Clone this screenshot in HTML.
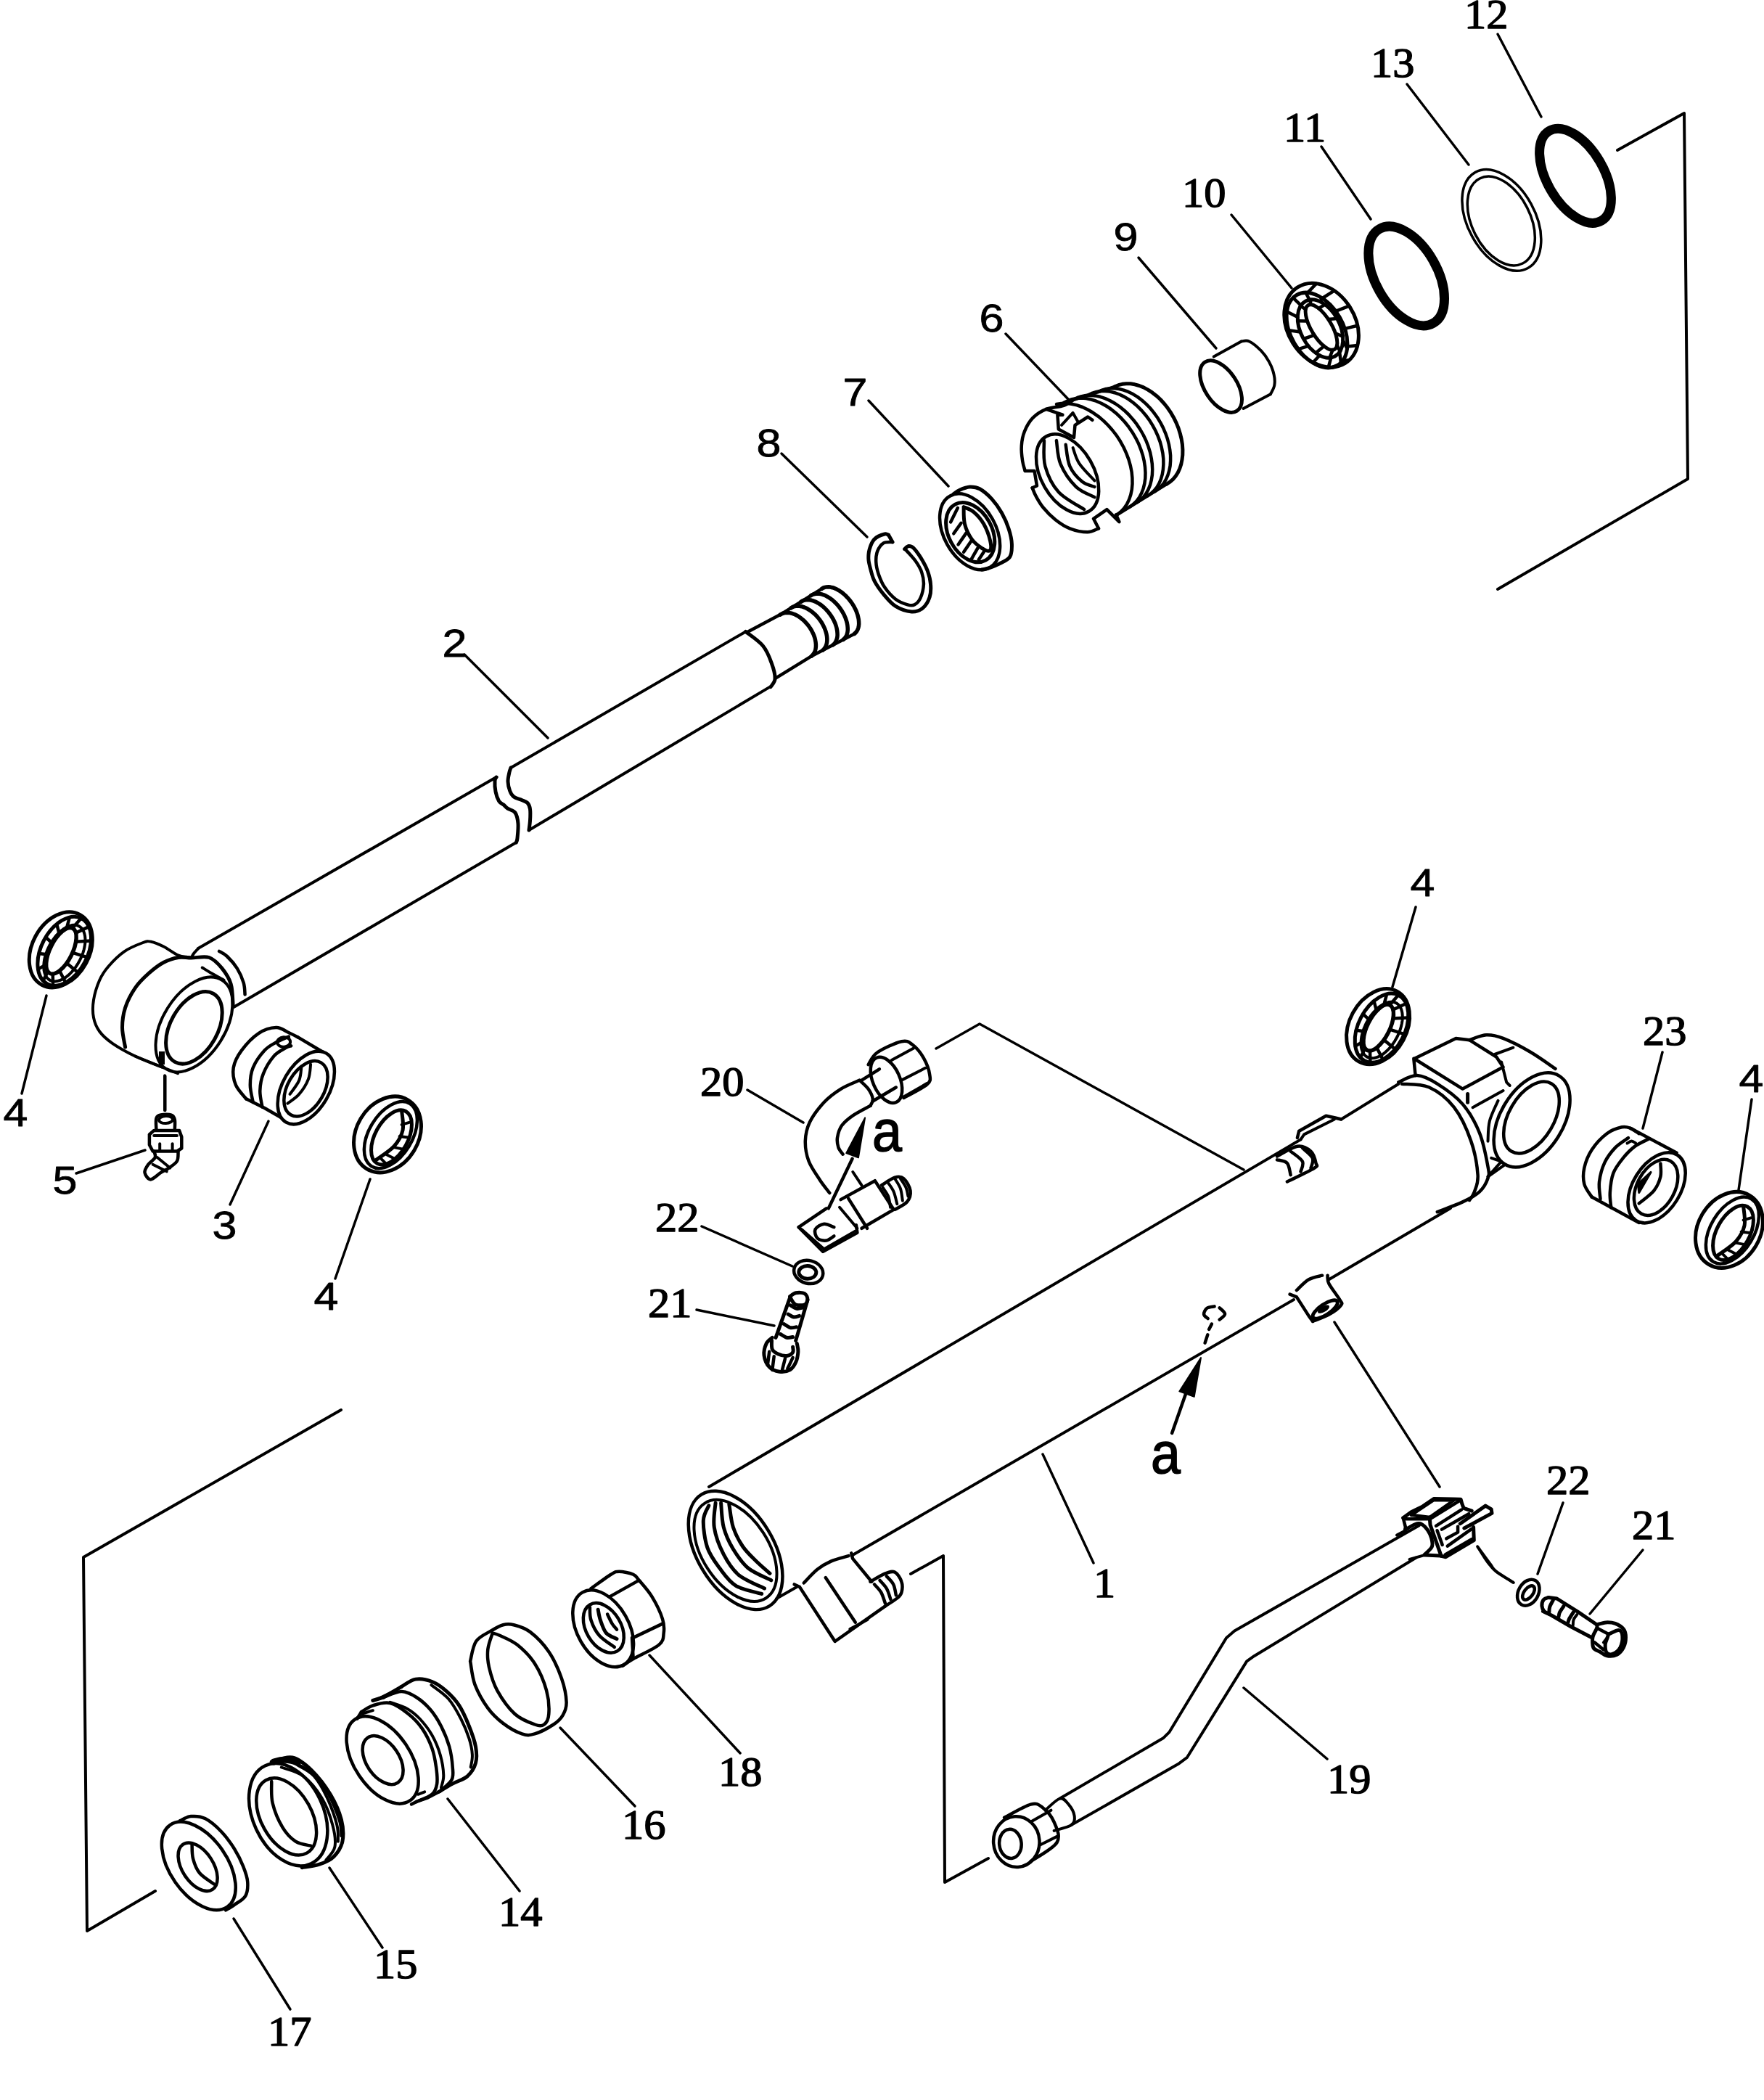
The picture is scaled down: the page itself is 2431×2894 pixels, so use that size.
<!DOCTYPE html>
<html><head><meta charset="utf-8"><style>
html,body{margin:0;padding:0;background:#fff;}
svg{display:block;}
text{fill:#000;stroke:none;}
</style></head><body>
<svg xmlns="http://www.w3.org/2000/svg" width="2431" height="2894" viewBox="0 0 2431 2894">
<rect width="2431" height="2894" fill="#fff"/>
<g fill="none" stroke="#000" stroke-linecap="round" stroke-linejoin="round">
<text x="2018" y="38.5" font-family="Liberation Serif" font-size="56.5" text-anchor="start" transform="translate(2018 38.5) scale(1.07 1) translate(-2018 -38.5)" style="stroke:#000;stroke-width:1.4px">12</text>
<text x="1889" y="106.5" font-family="Liberation Serif" font-size="56.5" text-anchor="start" transform="translate(1889 106.5) scale(1.07 1) translate(-1889 -106.5)" style="stroke:#000;stroke-width:1.4px">13</text>
<text x="1769" y="195.5" font-family="Liberation Serif" font-size="56.5" text-anchor="start" transform="translate(1769 195.5) scale(1.07 1) translate(-1769 -195.5)" style="stroke:#000;stroke-width:1.4px">11</text>
<text x="1629" y="285.5" font-family="Liberation Serif" font-size="56.5" text-anchor="start" transform="translate(1629 285.5) scale(1.07 1) translate(-1629 -285.5)" style="stroke:#000;stroke-width:1.4px">10</text>
<text x="1534.5" y="345.5" font-family="Liberation Sans" font-size="54" text-anchor="start" transform="translate(1534.5 345.5) scale(1.13 1) translate(-1534.5 -345.5)" style="stroke:#000;stroke-width:0.8px">9</text>
<text x="1349.5" y="457.5" font-family="Liberation Sans" font-size="54" text-anchor="start" transform="translate(1349.5 457.5) scale(1.13 1) translate(-1349.5 -457.5)" style="stroke:#000;stroke-width:0.8px">6</text>
<text x="1161.5" y="559.5" font-family="Liberation Sans" font-size="54" text-anchor="start" transform="translate(1161.5 559.5) scale(1.13 1) translate(-1161.5 -559.5)" style="stroke:#000;stroke-width:0.8px">7</text>
<text x="1042.5" y="629.5" font-family="Liberation Sans" font-size="54" text-anchor="start" transform="translate(1042.5 629.5) scale(1.13 1) translate(-1042.5 -629.5)" style="stroke:#000;stroke-width:0.8px">8</text>
<text x="609.5" y="905.5" font-family="Liberation Sans" font-size="54" text-anchor="start" transform="translate(609.5 905.5) scale(1.13 1) translate(-609.5 -905.5)" style="stroke:#000;stroke-width:0.8px">2</text>
<text x="4.5" y="1552.5" font-family="Liberation Sans" font-size="54" text-anchor="start" transform="translate(4.5 1552.5) scale(1.13 1) translate(-4.5 -1552.5)" style="stroke:#000;stroke-width:0.8px">4</text>
<text x="72.5" y="1645.5" font-family="Liberation Sans" font-size="54" text-anchor="start" transform="translate(72.5 1645.5) scale(1.13 1) translate(-72.5 -1645.5)" style="stroke:#000;stroke-width:0.8px">5</text>
<text x="292.5" y="1707.5" font-family="Liberation Sans" font-size="54" text-anchor="start" transform="translate(292.5 1707.5) scale(1.13 1) translate(-292.5 -1707.5)" style="stroke:#000;stroke-width:0.8px">3</text>
<text x="432.5" y="1805.5" font-family="Liberation Sans" font-size="54" text-anchor="start" transform="translate(432.5 1805.5) scale(1.13 1) translate(-432.5 -1805.5)" style="stroke:#000;stroke-width:0.8px">4</text>
<text x="965" y="1510.5" font-family="Liberation Serif" font-size="56.5" text-anchor="start" transform="translate(965 1510.5) scale(1.07 1) translate(-965 -1510.5)" style="stroke:#000;stroke-width:1.4px">20</text>
<text x="903" y="1697.5" font-family="Liberation Serif" font-size="56.5" text-anchor="start" transform="translate(903 1697.5) scale(1.07 1) translate(-903 -1697.5)" style="stroke:#000;stroke-width:1.4px">22</text>
<text x="893" y="1815.5" font-family="Liberation Serif" font-size="56.5" text-anchor="start" transform="translate(893 1815.5) scale(1.07 1) translate(-893 -1815.5)" style="stroke:#000;stroke-width:1.4px">21</text>
<text x="1943.5" y="1235.5" font-family="Liberation Sans" font-size="54" text-anchor="start" transform="translate(1943.5 1235.5) scale(1.13 1) translate(-1943.5 -1235.5)" style="stroke:#000;stroke-width:0.8px">4</text>
<text x="2264" y="1440.5" font-family="Liberation Serif" font-size="56.5" text-anchor="start" transform="translate(2264 1440.5) scale(1.07 1) translate(-2264 -1440.5)" style="stroke:#000;stroke-width:1.4px">23</text>
<text x="2396.5" y="1505.5" font-family="Liberation Sans" font-size="54" text-anchor="start" transform="translate(2396.5 1505.5) scale(1.13 1) translate(-2396.5 -1505.5)" style="stroke:#000;stroke-width:0.8px">4</text>
<text x="1507" y="2201.5" font-family="Liberation Serif" font-size="56.5" text-anchor="start" transform="translate(1507 2201.5) scale(1.07 1) translate(-1507 -2201.5)" style="stroke:#000;stroke-width:1.4px">1</text>
<text x="2131" y="2059.5" font-family="Liberation Serif" font-size="56.5" text-anchor="start" transform="translate(2131 2059.5) scale(1.07 1) translate(-2131 -2059.5)" style="stroke:#000;stroke-width:1.4px">22</text>
<text x="2249" y="2121.5" font-family="Liberation Serif" font-size="56.5" text-anchor="start" transform="translate(2249 2121.5) scale(1.07 1) translate(-2249 -2121.5)" style="stroke:#000;stroke-width:1.4px">21</text>
<text x="1829" y="2471.5" font-family="Liberation Serif" font-size="56.5" text-anchor="start" transform="translate(1829 2471.5) scale(1.07 1) translate(-1829 -2471.5)" style="stroke:#000;stroke-width:1.4px">19</text>
<text x="990" y="2461.5" font-family="Liberation Serif" font-size="56.5" text-anchor="start" transform="translate(990 2461.5) scale(1.07 1) translate(-990 -2461.5)" style="stroke:#000;stroke-width:1.4px">18</text>
<text x="857" y="2534.5" font-family="Liberation Serif" font-size="56.5" text-anchor="start" transform="translate(857 2534.5) scale(1.07 1) translate(-857 -2534.5)" style="stroke:#000;stroke-width:1.4px">16</text>
<text x="687" y="2654.5" font-family="Liberation Serif" font-size="56.5" text-anchor="start" transform="translate(687 2654.5) scale(1.07 1) translate(-687 -2654.5)" style="stroke:#000;stroke-width:1.4px">14</text>
<text x="515" y="2726.5" font-family="Liberation Serif" font-size="56.5" text-anchor="start" transform="translate(515 2726.5) scale(1.07 1) translate(-515 -2726.5)" style="stroke:#000;stroke-width:1.4px">15</text>
<text x="369" y="2819.5" font-family="Liberation Serif" font-size="56.5" text-anchor="start" transform="translate(369 2819.5) scale(1.07 1) translate(-369 -2819.5)" style="stroke:#000;stroke-width:1.4px">17</text>
<text x="1202" y="1586" font-family="Liberation Sans" font-size="80" text-anchor="start" transform="translate(1202 1586) scale(0.92 1) translate(-1202 -1586)" style="stroke:#000;stroke-width:1.6px">a</text>
<text x="1586" y="2030" font-family="Liberation Sans" font-size="80" text-anchor="start" transform="translate(1586 2030) scale(0.92 1) translate(-1586 -2030)" style="stroke:#000;stroke-width:1.6px">a</text>
<path d="M2064 47 L2124 161" stroke-width="3.5"/>
<path d="M1939 116 L2024 227" stroke-width="3.5"/>
<path d="M1821 202 L1889 302" stroke-width="3.5"/>
<path d="M1697 296 L1780 397" stroke-width="3.5"/>
<path d="M1569 355 L1676 480" stroke-width="3.5"/>
<path d="M1386 460 L1472 550" stroke-width="3.5"/>
<path d="M1197 552 L1307 670" stroke-width="3.5"/>
<path d="M1077 625 L1195 740" stroke-width="3.5"/>
<path d="M640 902 L755 1017" stroke-width="3.5"/>
<path d="M64 1372 L30 1507" stroke-width="3.5"/>
<path d="M105 1617 L200 1585" stroke-width="3.5"/>
<path d="M227 1482 L227 1530" stroke-width="3.5"/>
<path d="M317 1660 L370 1545" stroke-width="3.5"/>
<path d="M510 1625 L462 1762" stroke-width="3.5"/>
<path d="M1030 1502 L1107 1547" stroke-width="3.5"/>
<path d="M967 1690 L1092 1745" stroke-width="3.5"/>
<path d="M960 1805 L1067 1827" stroke-width="3.5"/>
<path d="M1951 1250 L1919 1360" stroke-width="3.5"/>
<path d="M2291 1450 L2264 1555" stroke-width="3.5"/>
<path d="M2414 1515 L2396 1640" stroke-width="3.5"/>
<path d="M1437 2004 L1507 2154" stroke-width="3.5"/>
<path d="M1714 2326 L1829 2424" stroke-width="3.5"/>
<path d="M2119 2169 L2154 2071" stroke-width="3.5"/>
<path d="M2191 2224 L2264 2136" stroke-width="3.5"/>
<path d="M895 2281 L1020 2416" stroke-width="3.5"/>
<path d="M772 2381 L875 2489" stroke-width="3.5"/>
<path d="M617 2479 L716 2606" stroke-width="3.5"/>
<path d="M454 2574 L527 2684" stroke-width="3.5"/>
<path d="M322 2644 L400 2769" stroke-width="3.5"/>
<path d="M1839 1822 L1984 2049" stroke-width="3.5"/>
<path d="M2036 2131 C2038.3 2134.7 2045.7 2147.2 2050 2153 C2054.3 2158.8 2056 2161.3 2062 2166 C2068 2170.7 2082 2178.5 2086 2181" stroke-width="3.5"/>
<path d="M2229 207 L2321 156 L2326 660 L2064 812" stroke-width="4"/>
<path d="M1290 1445 L1350 1411 L1714 1612" stroke-width="3.5"/>
<path d="M470 1943 L115 2146 L120 2661 L214 2606" stroke-width="4"/>
<path d="M1255 2169 L1300 2144 L1302 2594 L1362 2561" stroke-width="4"/>
<ellipse cx="2171" cy="242.3" rx="71.6" ry="39.1" transform="rotate(59.8 2171 242.3)" stroke-width="13"/>
<ellipse cx="1938.2" cy="380.4" rx="74.8" ry="42.6" transform="rotate(60.4 1938.2 380.4)" stroke-width="13"/>
<ellipse cx="2069.4" cy="303.4" rx="75.3" ry="46.4" transform="rotate(61.3 2069.4 303.4)" stroke-width="3.5"/>
<ellipse cx="2068.8" cy="304.5" rx="65.6" ry="40.2" transform="rotate(63.2 2068.8 304.5)" stroke-width="3.5"/>
<ellipse cx="1821.1" cy="448.2" rx="61.7" ry="46.5" transform="rotate(57.8 1821.1 448.2)" stroke-width="5"/>
<ellipse cx="1815" cy="455" rx="56" ry="36" transform="rotate(60 1815 455)" stroke-width="5"/>
<ellipse cx="1819.5" cy="453" rx="43" ry="27" transform="rotate(62 1819.5 453)" stroke-width="5"/>
<ellipse cx="1821" cy="451" rx="35.5" ry="14" transform="rotate(59 1821 451)" stroke-width="5"/>
<path d="M1848 499.6 L1846.1 485.2" stroke-width="4.5"/>
<path d="M1856.5 480.6 L1850.7 469" stroke-width="4.5"/>
<path d="M1853.9 454.7 L1847 448.5" stroke-width="4.5"/>
<path d="M1840.8 428.9 L1835.9 429.2" stroke-width="4.5"/>
<path d="M1820.9 410 L1820.4 416.3" stroke-width="4.5"/>
<path d="M1799.4 403.3 L1804.7 413.2" stroke-width="4.5"/>
<path d="M1782 410.4 L1792.9 420.8" stroke-width="4.5"/>
<path d="M1773.5 429.4 L1788.3 437" stroke-width="4.5"/>
<path d="M1776.1 455.3 L1792 457.5" stroke-width="4.5"/>
<path d="M1789.2 481.1 L1803.1 476.8" stroke-width="4.5"/>
<path d="M1809.1 500 L1818.6 489.7" stroke-width="4.5"/>
<path d="M1830.6 506.7 L1834.3 492.8" stroke-width="4.5"/>
<path d="M1816.4 503.7 L1813.9 501.5" stroke-width="4.5"/>
<path d="M1835.9 506.2 L1838.5 505.7" stroke-width="4.5"/>
<path d="M1850.5 496.7 L1859.1 496.5" stroke-width="4.5"/>
<path d="M1856.8 477.4 L1870.8 475.9" stroke-width="4.5"/>
<path d="M1853.3 452.9 L1870.9 448.8" stroke-width="4.5"/>
<path d="M1840.8 428.9 L1859.3 421.6" stroke-width="4.5"/>
<path d="M1822.3 411 L1838.7 400.6" stroke-width="4.5"/>
<path d="M1802.1 403.4 L1814.1 390.8" stroke-width="4.5"/>
<path d="M1846.6 484.3 L1842.6 475.5" stroke-width="4.5"/>
<path d="M1850.6 463.7 L1840.4 459.4" stroke-width="4.5"/>
<path d="M1842.6 439 L1830.7 440.1" stroke-width="4.5"/>
<path d="M1825.9 419.6 L1817.3 425" stroke-width="4.5"/>
<path d="M1806.7 413 L1805.3 419.8" stroke-width="4.5"/>
<path d="M1792.4 421.7 L1799.4 426.5" stroke-width="4.5"/>
<path d="M1788.4 442.3 L1801.6 442.6" stroke-width="4.5"/>
<path d="M1796.4 467 L1811.3 461.9" stroke-width="4.5"/>
<path d="M1813.1 486.4 L1824.7 477" stroke-width="4.5"/>
<path d="M1832.3 493 L1836.7 482.2" stroke-width="4.5"/>
<ellipse cx="1682.6" cy="532.6" rx="22.2" ry="40.2" transform="rotate(-33.5 1682.6 532.6)" stroke-width="5"/>
<path d="M1672.7 491.6 L1710.7 470.5" stroke-width="4"/>
<path d="M1710.7 470.5 C1712.6 470.5 1717.1 468.3 1721.6 470.5 C1726.2 472.6 1733.4 478.8 1738 483.4 C1742.5 488 1745.9 492.9 1748.8 498.4 C1751.8 503.8 1754.4 510.6 1755.6 516.1 C1756.9 521.5 1757.1 526.5 1756.3 531 C1755.5 535.6 1751.8 541.2 1750.9 543.3" stroke-width="4"/>
<path d="M1750.9 543.3 L1713.5 563" stroke-width="4"/>
<path d="M1480 550.4 C1477.7 551.8 1472.2 556.7 1465.9 558.9 C1459.5 561.2 1448.9 561.1 1441.8 563.9 C1434.7 566.7 1428.3 570.9 1423.3 575.9 C1418.4 581 1414.6 588 1412 594.4 C1409.4 600.7 1408.2 607.4 1407.8 614.2 C1407.3 621.1 1408.3 629.7 1409.2 635.5 C1410 641.3 1412.1 646.7 1412.7 648.9" stroke-width="4.5"/>
<path d="M1412.7 648.9 L1425.5 648.9 L1429 669.5 L1422.6 672.3" stroke-width="4.5"/>
<path d="M1422.6 672.3 C1423.5 674.2 1425.1 679.2 1427.6 683.7 C1430.1 688.1 1433 693.8 1437.5 699.2 C1442 704.7 1448.4 711.4 1454.5 716.2 C1460.7 721.1 1467 725.5 1474.4 728.3 C1481.7 731.1 1491.8 733.3 1498.5 733.3 C1505.1 733.3 1511.4 729.1 1514 728.3" stroke-width="4.5"/>
<path d="M1514 728.3 L1507 714.8 L1525.4 702.1 L1542.4 719.1 L1538.1 709.2" stroke-width="4.5"/>
<path d="M1441.8 563.9 L1464.4 571.7 L1457.4 571.7 L1458.8 591.5 L1480 602.9 L1481.5 585.9 L1499.2 574.5 L1505.5 578.8" stroke-width="4.5"/>
<path d="M1463 585.9 L1478.6 568.9 L1485.7 581.6" stroke-width="4"/>
<ellipse cx="1471.1" cy="653.1" rx="59.4" ry="36.3" transform="rotate(60.3 1471.1 653.1)" stroke-width="4.5"/>
<path d="M1438.9 607.1 C1439.2 613 1437 630.7 1440.4 642.6 C1443.7 654.4 1449.8 668.1 1458.8 678 C1467.8 687.9 1488.3 698.1 1494.2 702.1" stroke-width="4.5"/>
<path d="M1455.9 607.1 C1456.9 612.6 1457.1 629.1 1461.6 639.7 C1466.1 650.3 1475.1 663.3 1482.9 670.9 C1490.7 678.5 1504.1 682.7 1508.4 685.1" stroke-width="4.5"/>
<path d="M1468.7 612.8 C1469.6 617.7 1470.6 634 1474.4 642.6 C1478.1 651.1 1485.7 659.1 1491.4 663.8 C1497 668.5 1505.5 669.7 1508.4 670.9" stroke-width="4.5"/>
<path d="M1478.6 617 C1480 620.6 1482.2 630.7 1487.1 638.3 C1492.1 645.9 1504.8 658.4 1508.4 662.4" stroke-width="4"/>
<path d="M1539.9 709 L1544.9 705 L1549.3 700.2 L1553 694.7 L1556 688.6 L1558.3 681.8 L1559.8 674.5 L1560.5 666.8 L1560.4 658.8 L1559.6 650.4 L1557.9 641.9 L1555.5 633.4 L1552.3 624.9 L1548.5 616.5 L1544 608.3 L1538.9 600.4 L1533.2 593 L1527 586 L1520.5 579.6 L1513.6 573.8 L1506.4 568.8 L1499.1 564.5 L1491.7 561 L1484.2 558.4 L1476.8 556.7 L1469.6 555.8 L1462.7 555.9 L1456 556.9" stroke-width="4.5"/>
<path d="M1557.4 698.3 L1562.2 694.6 L1566.5 690.3 L1570.2 685.2 L1573.2 679.5 L1575.6 673.2 L1577.3 666.4 L1578.3 659.2 L1578.5 651.6 L1578 643.7 L1576.8 635.6 L1574.9 627.5 L1572.2 619.3 L1569 611.2 L1565 603.3 L1560.5 595.7 L1555.5 588.4 L1550 581.5 L1544.1 575.1 L1537.8 569.2 L1531.3 564 L1524.5 559.5 L1517.6 555.7 L1510.6 552.7 L1503.6 550.5 L1496.8 549.1 L1490.1 548.6 L1483.6 548.9 L1477.4 550.1 L1471.6 552.2 L1466.3 555" stroke-width="4.5"/>
<path d="M1566.8 692.5 L1571.6 689 L1575.9 684.8 L1579.6 679.8 L1582.6 674.3 L1585.1 668.1 L1586.8 661.5 L1587.9 654.4 L1588.2 647 L1587.8 639.3 L1586.7 631.4 L1585 623.3 L1582.5 615.3 L1579.4 607.3 L1575.7 599.5 L1571.4 592 L1566.6 584.7 L1561.3 577.9 L1555.6 571.5 L1549.5 565.7 L1543.2 560.5 L1536.6 556 L1529.9 552.2 L1523.1 549.1 L1516.3 546.8 L1509.6 545.4 L1503 544.8 L1496.6 545 L1490.6 546.1 L1484.9 548 L1479.6 550.7" stroke-width="4.5"/>
<path d="M1581.7 683.2 L1586.4 680 L1590.7 676 L1594.4 671.3 L1597.5 666 L1599.9 660.1 L1601.8 653.7 L1602.9 646.9 L1603.4 639.7 L1603.3 632.2 L1602.4 624.5 L1600.8 616.7 L1598.7 608.9 L1595.8 601.1 L1592.4 593.5 L1588.4 586.1 L1583.9 578.9 L1578.9 572.2 L1573.5 565.9 L1567.8 560.1 L1561.8 555 L1555.5 550.4 L1549.1 546.6 L1542.6 543.5 L1536 541.2 L1529.6 539.6 L1523.2 538.9 L1517.1 539 L1511.2 539.9 L1505.7 541.6 L1500.5 544.1" stroke-width="4.5"/>
<path d="M1591.3 677.3 L1595.9 674.2 L1600.1 670.4 L1603.8 665.8 L1606.9 660.7 L1609.4 654.9 L1611.3 648.7 L1612.6 642 L1613.1 635 L1613.1 627.7 L1612.3 620.2 L1610.9 612.5 L1608.9 604.8 L1606.2 597.1 L1603 589.6 L1599.2 582.3 L1594.9 575.2 L1590.1 568.6 L1584.9 562.3 L1579.4 556.6 L1573.6 551.5 L1567.5 546.9 L1561.3 543.1 L1554.9 539.9 L1548.6 537.6 L1542.3 536 L1536.1 535.2 L1530 535.2 L1524.3 536 L1518.8 537.6 L1513.7 539.9" stroke-width="4.5"/>
<path d="M1607.7 667.1 L1612.3 664.2 L1616.4 660.6 L1620 656.3 L1623.2 651.4 L1625.7 646 L1627.7 640 L1629 633.6 L1629.8 626.9 L1629.9 619.8 L1629.4 612.5 L1628.2 605.1 L1626.4 597.7 L1624.1 590.2 L1621.1 582.9 L1617.6 575.7 L1613.7 568.9 L1609.2 562.3 L1604.4 556.2 L1599.2 550.5 L1593.7 545.4 L1587.9 540.9 L1582 537.1 L1576 533.9 L1570 531.5 L1563.9 529.8 L1558 528.8 L1552.2 528.7 L1546.6 529.3 L1541.3 530.7 L1536.3 532.9" stroke-width="5"/>
<path d="M1466.3 555 L1536.3 532.9" stroke-width="4.5"/>
<path d="M1539.9 709 L1607.7 667.1" stroke-width="4.5"/>
<path d="M1224.5 737.3 C1223.6 737.1 1222.2 735 1219 736 C1215.8 736.9 1208.6 739.4 1205.2 742.9 C1201.7 746.3 1199.7 752.1 1198.3 756.7 C1196.9 761.3 1196.7 765.9 1196.9 770.5 C1197.1 775.1 1198.3 779.2 1199.7 784.3 C1201 789.3 1202.2 795.1 1205.2 800.9 C1208.2 806.6 1212.8 813.1 1217.6 818.8 C1222.5 824.6 1227.7 831.4 1234.2 835.4 C1240.6 839.4 1250.1 842.5 1256.3 843 C1262.5 843.4 1267.3 841.5 1271.5 838.1 C1275.6 834.8 1279.3 828.5 1281.1 823 C1283 817.4 1283 811 1282.5 805 C1282.1 799 1280.5 792.8 1278.4 787 C1276.3 781.3 1273.3 775.8 1270.1 770.5 C1266.9 765.2 1262 758.3 1259 755.3 C1256.1 752.3 1254.2 752.3 1252.1 752.5 C1250.1 752.8 1247.5 756 1246.6 756.7" stroke-width="5"/>
<path d="M1230 747 C1228 747.2 1221.1 746.3 1217.6 748.4 C1214.2 750.5 1211.1 755.1 1209.3 759.4 C1207.6 763.8 1207 769.3 1207.3 774.6 C1207.5 779.9 1208.8 785.4 1210.7 791.2 C1212.7 796.9 1215.1 803.4 1219 809.1 C1222.9 814.9 1228.9 821.7 1234.2 825.7 C1239.5 829.7 1246.4 832 1250.8 833.3 C1255.1 834.6 1257.4 834.9 1260.4 833.3 C1263.4 831.7 1266.6 828.4 1268.7 823.6 C1270.8 818.9 1272.6 810.9 1272.9 805 C1273.1 799.1 1271.9 793.7 1270.1 788.4 C1268.3 783.1 1265.5 778.4 1261.8 773.2 C1258.1 768.1 1250.3 760 1248 757.4" stroke-width="4.5"/>
<path d="M1224.5 737.3 L1230 747" stroke-width="5"/>
<path d="M1314.3 680.7 C1315.7 679.8 1318.9 676.8 1322.6 675.2 C1326.3 673.6 1331.8 671.3 1336.4 671 C1341 670.8 1345.1 671 1350.2 673.8 C1355.3 676.6 1361.7 682.1 1366.8 687.6 C1371.8 693.1 1376.7 700 1380.6 707 C1384.5 713.9 1387.9 721.9 1390.2 729 C1392.5 736.2 1394.2 743.3 1394.4 749.8 C1394.6 756.2 1394.6 763.1 1391.6 767.7 C1388.6 772.3 1381.3 774.8 1376.4 777.4 C1371.6 779.9 1366.5 781.6 1362.6 782.9 C1358.7 784.2 1354.6 784.6 1353 785" stroke-width="5"/>
<ellipse cx="1336.6" cy="732.8" rx="35.8" ry="56.4" transform="rotate(-28.9 1336.6 732.8)" stroke-width="4.5"/>
<ellipse cx="1337.2" cy="733.6" rx="29.8" ry="43.9" transform="rotate(-28.7 1337.2 733.6)" stroke-width="5"/>
<path d="M1328.1 698.7 C1330.4 699.8 1337.3 701.7 1341.9 705.6 C1346.5 709.5 1351.9 715.5 1355.7 722.1 C1359.5 728.8 1363.3 739.5 1364.7 745.6 C1366.1 751.7 1366 757.1 1364 758.7 C1362 760.3 1357.1 757.9 1353 755.3 C1348.8 752.6 1343.1 748.4 1339.1 742.9 C1335.2 737.3 1331.3 729.5 1329.5 722.1 C1327.6 714.8 1328.3 702.6 1328.1 698.7" stroke-width="5"/>
<path d="M1319.8 700 L1310.1 719.4" stroke-width="4.5"/>
<path d="M1324.6 720.8 L1314.3 735.3" stroke-width="4.5"/>
<path d="M1331.5 734.6 L1320.5 750.5" stroke-width="4.5"/>
<path d="M1338.5 745.6 L1328.1 760.8" stroke-width="4.5"/>
<path d="M1347.4 755.3 L1339.1 769.8" stroke-width="4.5"/>
<path d="M1355.7 760.8 L1348.8 771.2" stroke-width="4.5"/>
<path d="M273 1307 L684.4 1070.8" stroke-width="4"/>
<path d="M322 1388 L711.4 1161" stroke-width="4"/>
<path d="M684 1071 C683.7 1071.8 682.2 1072.7 682 1076 C681.8 1079.3 682.1 1086.3 683 1091 C683.9 1095.7 685.8 1101 687.6 1104 C689.4 1107 691.9 1107.3 694 1109 C696.1 1110.7 697.3 1112.6 700 1114.4 C702.7 1116.2 707.7 1116.6 710 1120 C712.3 1123.4 713.5 1129.2 714 1135 C714.5 1140.8 713.4 1150.7 713 1155 C712.6 1159.3 711.7 1160 711.4 1161" stroke-width="5"/>
<path d="M704 1058 L1027.6 870.5" stroke-width="4"/>
<path d="M704 1058 C703.7 1059 702.7 1060.8 702 1064 C701.3 1067.2 699.9 1072.7 700 1077 C700.1 1081.3 701.4 1086.5 702.7 1090 C704 1093.5 705.3 1095.9 708 1098 C710.7 1100.1 715.8 1101.1 719 1102.5 C722.2 1103.9 725.1 1104.4 727 1106.5 C728.9 1108.6 729.9 1110.9 730.5 1115 C731.1 1119.1 730.8 1126.2 730.5 1131 C730.2 1135.8 729.2 1141.8 729 1144" stroke-width="5"/>
<path d="M729 1144 L1062.3 945.9" stroke-width="4"/>
<path d="M1027.6 870.5 C1031.6 873.7 1045.5 882.8 1051.4 890 C1057.4 897.2 1060.6 906.3 1063.3 913.8 C1066.1 921.3 1068.3 929.8 1068.1 935.2 C1067.9 940.7 1063.1 944.8 1062.1 946.7" stroke-width="5"/>
<path d="M1030 871 L1075.2 847.1" stroke-width="4.5"/>
<path d="M1068.1 935.2 L1118.1 904.3" stroke-width="4.5"/>
<path d="M1118.2 904.2 L1119.9 902.7 L1121.4 900.8 L1122.6 898.7 L1123.5 896.4 L1124.1 893.8 L1124.4 891 L1124.4 888 L1124.1 884.9 L1123.5 881.7 L1122.7 878.5 L1121.5 875.2 L1120 871.9 L1118.4 868.7 L1116.4 865.5 L1114.3 862.5 L1111.9 859.6 L1109.4 856.8 L1106.8 854.3 L1104 852 L1101.2 850 L1098.3 848.2 L1095.4 846.8 L1092.5 845.7 L1089.6 844.9 L1086.9 844.4 L1084.2 844.3 L1081.7 844.5 L1079.3 845.1 L1077.2 846 L1075.2 847.2" stroke-width="5.5"/>
<path d="M1133.6 896.2 L1135.3 894.7 L1136.8 892.8 L1138 890.7 L1138.9 888.3 L1139.5 885.7 L1139.8 882.9 L1139.8 879.9 L1139.5 876.8 L1138.9 873.5 L1138 870.2 L1136.8 866.9 L1135.3 863.5 L1133.6 860.2 L1131.7 857 L1129.5 853.9 L1127.1 850.9 L1124.6 848.1 L1121.9 845.5 L1119.1 843.2 L1116.2 841.1 L1113.3 839.3 L1110.4 837.8 L1107.5 836.6 L1104.6 835.7 L1101.8 835.2 L1099.2 835.1 L1096.6 835.3 L1094.2 835.8 L1092.1 836.7 L1090.1 837.9" stroke-width="5.5"/>
<path d="M1147.9 888.8 L1149.6 887.3 L1151.1 885.4 L1152.2 883.3 L1153.1 880.9 L1153.8 878.3 L1154.1 875.4 L1154 872.4 L1153.7 869.2 L1153.1 865.9 L1152.2 862.6 L1151 859.2 L1149.5 855.8 L1147.7 852.4 L1145.7 849.1 L1143.5 846 L1141.1 842.9 L1138.6 840.1 L1135.9 837.4 L1133.1 835 L1130.2 832.8 L1127.2 831 L1124.3 829.4 L1121.3 828.2 L1118.4 827.3 L1115.6 826.7 L1112.9 826.6 L1110.4 826.7 L1108 827.2 L1105.8 828.1 L1103.8 829.3" stroke-width="5.5"/>
<path d="M1162.1 881.4 L1163.8 879.9 L1165.3 878 L1166.5 875.9 L1167.4 873.5 L1168 870.8 L1168.3 868 L1168.2 864.9 L1167.9 861.7 L1167.3 858.4 L1166.3 855 L1165.1 851.5 L1163.6 848.1 L1161.8 844.6 L1159.8 841.3 L1157.6 838 L1155.2 834.9 L1152.6 832 L1149.8 829.3 L1147 826.8 L1144.1 824.6 L1141.1 822.7 L1138.1 821.1 L1135.2 819.8 L1132.3 818.9 L1129.4 818.3 L1126.7 818.1 L1124.2 818.2 L1121.8 818.7 L1119.6 819.5 L1117.6 820.7" stroke-width="5.5"/>
<path d="M1177.5 873.4 L1179.2 871.9 L1180.7 870 L1181.9 867.9 L1182.8 865.4 L1183.4 862.8 L1183.7 859.9 L1183.6 856.8 L1183.3 853.5 L1182.6 850.2 L1181.7 846.7 L1180.4 843.2 L1178.9 839.7 L1177.1 836.2 L1175.1 832.8 L1172.8 829.5 L1170.3 826.3 L1167.7 823.3 L1165 820.5 L1162.1 818 L1159.2 815.7 L1156.2 813.7 L1153.2 812.1 L1150.2 810.7 L1147.2 809.7 L1144.4 809.1 L1141.7 808.8 L1139.1 808.9 L1136.7 809.4 L1134.5 810.2 L1132.5 811.4" stroke-width="5.5"/>
<path d="M1075.2 847.2 L1132.5 811.4" stroke-width="4.5"/>
<path d="M1118.2 904.2 L1177.5 873.4" stroke-width="4.5"/>
<path d="M222.9 1470.5 C216.8 1468 197.5 1461 186.2 1455.5 C174.9 1450 163.1 1443.5 154.9 1437.8 C146.7 1432.1 141.5 1427.4 137.2 1421.5 C132.9 1415.6 130.4 1409.7 129 1402.4 C127.6 1395.2 127.6 1386.6 129 1378 C130.4 1369.4 133.8 1358.4 137.2 1350.7 C140.6 1343 143.8 1338.3 149.5 1331.7 C155.2 1325.1 163.3 1316.8 171.2 1311.3 C179.1 1305.8 191 1301.3 197.1 1299 C203.2 1296.7 203.2 1296.8 208 1297.7 C212.8 1298.6 219.3 1301.3 225.6 1304.5 C231.9 1307.7 239.7 1314.2 246 1316.7 C252.3 1319.2 260.8 1319 263.7 1319.5" stroke-width="4"/>
<path d="M172.6 1443 C171.9 1438.5 168.5 1425 168.5 1416 C168.5 1407 169.7 1397.9 172.6 1388.8 C175.5 1379.7 180.8 1369.5 186.2 1361.6 C191.6 1353.7 198.6 1347.1 205.2 1341.2 C211.8 1335.3 218.8 1329.9 225.6 1326.3 C232.4 1322.7 239.7 1320.5 246 1319.5 C252.3 1318.5 256.7 1320.1 263.7 1320.1 C270.7 1320.1 281.2 1317.1 288.2 1319.5 C295.2 1321.9 300.9 1328.3 305.9 1334.4 C310.9 1340.5 315.6 1347.6 318.2 1356.2 C320.8 1364.8 320.7 1381.1 321.2 1386.1" stroke-width="5"/>
<ellipse cx="267.5" cy="1411.9" rx="43" ry="72.3" transform="rotate(32.2 267.5 1411.9)" stroke-width="4"/>
<ellipse cx="267.4" cy="1416.3" rx="32.5" ry="54" transform="rotate(29.4 267.4 1416.3)" stroke-width="5"/>
<path d="M302 1310.9 C303.8 1312.1 308.9 1314.1 313 1318 C317.1 1321.9 322.9 1328.4 326.7 1334.4 C330.5 1340.5 333.9 1348.3 335.7 1354.3 C337.5 1360.3 337.3 1367.9 337.6 1370.6" stroke-width="4.5"/>
<path d="M278.7 1333.5 C280.7 1334.7 285.5 1337.8 290.5 1340.7 C295.5 1343.6 305.6 1349 308.6 1350.7" stroke-width="4"/>
<path d="M263.7 1320 C264.2 1319 265.4 1316.1 267 1314 C268.6 1311.9 272.2 1308.3 273.3 1307.2" stroke-width="4"/>
<path d="M186.2 1455.5 L223 1470.5 L245 1479.2" stroke-width="4"/>
<rect x="219" y="1449" width="8" height="18" fill="#000" stroke="none"/>
<ellipse cx="83.8" cy="1308.8" rx="39.5" ry="55.1" transform="rotate(28.4 83.8 1308.8)" stroke-width="5"/>
<ellipse cx="88.7" cy="1310.8" rx="31.9" ry="50.9" transform="rotate(27.6 88.7 1310.8)" stroke-width="5"/>
<ellipse cx="84.4" cy="1310.3" rx="15.2" ry="34.8" transform="rotate(26.9 84.4 1310.3)" stroke-width="5.5"/>
<path d="M109.3 1324.6 L111.3 1320.7 L113 1316.6 L114.5 1312.6 L115.7 1308.5 L116.6 1304.5 L117.2 1300.6 L117.5 1296.9 L117.4 1293.3 L117.1 1290 L116.4 1286.9 L115.5 1284.1 L114.2 1281.6 L112.7 1279.5 L110.9 1277.7 L108.9 1276.4 L106.6 1275.4 L104.2 1274.9 L101.6 1274.8 L98.8 1275.1 L96 1275.9 L93 1277 L90.1 1278.6 L87.1 1280.5 L84.1 1282.8 L81.2 1285.5 L78.3 1288.4 L75.6 1291.6 L73 1295.1 L70.6 1298.8 L68.4 1302.6 L66.4 1306.6 L64.7 1310.6 L63.2 1314.6 L62 1318.7 L61.1 1322.7 L60.6 1326.6 L60.3 1330.3 L60.3 1333.9 L60.6 1337.3 L61.3 1340.3 L62.3 1343.1 L63.5 1345.6 L65 1347.7 L66.8 1349.5 L68.8 1350.8 L71.1 1351.8 L73.5 1352.3 L76.1 1352.4 L78.9 1352.1 L81.8 1351.3 L84.7 1350.2 L87.7 1348.6 L90.7 1346.7 L93.6 1344.4 L96.6 1341.7 L99.4 1338.8 L102.1 1335.6 L104.7 1332.1 L107.1 1328.4 L109.3 1324.6" stroke-width="4"/>
<path d="M100 1312.8 L119.9 1319.2" stroke-width="4.5"/>
<path d="M104.6 1297.7 L125.4 1296.5" stroke-width="4.5"/>
<path d="M104.5 1285.6 L122.4 1277.1" stroke-width="4.5"/>
<path d="M99.9 1279.1 L111.8 1265.4" stroke-width="4.5"/>
<path d="M91.7 1279.8 L95.8 1264.2" stroke-width="4.5"/>
<path d="M81.8 1287.4 L78.2 1273.6" stroke-width="4.5"/>
<path d="M72.5 1300.3 L63 1291.5" stroke-width="4.5"/>
<path d="M66 1315.5 L53.7 1313.9" stroke-width="4.5"/>
<path d="M63.6 1329.5 L52.4 1335.5" stroke-width="4.5"/>
<path d="M66 1339.1 L59.4 1351.5" stroke-width="4.5"/>
<path d="M72.7 1342.1 L73.1 1358.2" stroke-width="4.5"/>
<path d="M82 1337.8 L90.4 1354" stroke-width="4.5"/>
<path d="M91.8 1327.2 L107.3 1339.9" stroke-width="4.5"/>
<ellipse cx="534" cy="1563.4" rx="55.3" ry="42.9" transform="rotate(-59.4 534 1563.4)" stroke-width="5"/>
<ellipse cx="538.4" cy="1564.1" rx="50.6" ry="29.7" transform="rotate(-58.7 538.4 1564.1)" stroke-width="4.5"/>
<ellipse cx="539.5" cy="1567.4" rx="22.6" ry="41" transform="rotate(28.7 539.5 1567.4)" stroke-width="5"/>
<path d="M553.6 1530.6 C553.8 1535.1 556.8 1549.1 555.1 1557.3 C553.3 1565.4 549.4 1572.5 543.2 1579.5 C537.1 1586.4 522.3 1595.5 518.1 1598.7" stroke-width="5"/>
<path d="M553.6 1549.9 L563.9 1546.9" stroke-width="4"/>
<path d="M550.6 1566.1 L562.5 1567.6" stroke-width="4"/>
<path d="M541.7 1580.9 L556.5 1583.9" stroke-width="4"/>
<path d="M532.9 1591.3 L544.7 1597.2" stroke-width="4"/>
<path d="M524 1595.7 L532.9 1604.6" stroke-width="4"/>
<ellipse cx="1899.1" cy="1414.7" rx="39.5" ry="55.1" transform="rotate(28.4 1899.1 1414.7)" stroke-width="5"/>
<ellipse cx="1904" cy="1416.7" rx="31.9" ry="50.9" transform="rotate(27.6 1904 1416.7)" stroke-width="5"/>
<ellipse cx="1899.7" cy="1416.2" rx="15.2" ry="34.8" transform="rotate(26.9 1899.7 1416.2)" stroke-width="5.5"/>
<path d="M1924.6 1430.5 L1926.6 1426.6 L1928.3 1422.5 L1929.8 1418.5 L1931 1414.4 L1931.9 1410.4 L1932.5 1406.5 L1932.8 1402.8 L1932.7 1399.2 L1932.4 1395.9 L1931.7 1392.8 L1930.8 1390 L1929.5 1387.5 L1928 1385.4 L1926.2 1383.6 L1924.2 1382.3 L1921.9 1381.3 L1919.5 1380.8 L1916.9 1380.7 L1914.1 1381 L1911.3 1381.8 L1908.3 1382.9 L1905.4 1384.5 L1902.4 1386.4 L1899.4 1388.7 L1896.5 1391.4 L1893.6 1394.3 L1890.9 1397.5 L1888.3 1401 L1885.9 1404.7 L1883.7 1408.5 L1881.7 1412.5 L1880 1416.5 L1878.5 1420.5 L1877.3 1424.6 L1876.4 1428.6 L1875.9 1432.5 L1875.6 1436.2 L1875.6 1439.8 L1875.9 1443.2 L1876.6 1446.2 L1877.6 1449 L1878.8 1451.5 L1880.3 1453.6 L1882.1 1455.4 L1884.1 1456.7 L1886.4 1457.7 L1888.8 1458.2 L1891.4 1458.3 L1894.2 1458 L1897.1 1457.2 L1900 1456.1 L1903 1454.5 L1906 1452.6 L1908.9 1450.3 L1911.9 1447.6 L1914.7 1444.7 L1917.4 1441.5 L1920 1438 L1922.4 1434.3 L1924.6 1430.5" stroke-width="4"/>
<path d="M1915.3 1418.7 L1935.2 1425.1" stroke-width="4.5"/>
<path d="M1919.9 1403.6 L1940.7 1402.4" stroke-width="4.5"/>
<path d="M1919.8 1391.5 L1937.7 1383" stroke-width="4.5"/>
<path d="M1915.2 1385 L1927.1 1371.3" stroke-width="4.5"/>
<path d="M1907 1385.7 L1911.1 1370.1" stroke-width="4.5"/>
<path d="M1897.1 1393.3 L1893.5 1379.5" stroke-width="4.5"/>
<path d="M1887.8 1406.2 L1878.3 1397.4" stroke-width="4.5"/>
<path d="M1881.3 1421.4 L1869 1419.8" stroke-width="4.5"/>
<path d="M1878.9 1435.4 L1867.7 1441.4" stroke-width="4.5"/>
<path d="M1881.3 1445 L1874.7 1457.4" stroke-width="4.5"/>
<path d="M1888 1448 L1888.4 1464.1" stroke-width="4.5"/>
<path d="M1897.3 1443.7 L1905.7 1459.9" stroke-width="4.5"/>
<path d="M1907.1 1433.1 L1922.6 1445.8" stroke-width="4.5"/>
<ellipse cx="2383" cy="1694.9" rx="55.3" ry="42.9" transform="rotate(-59.4 2383 1694.9)" stroke-width="5"/>
<ellipse cx="2387.4" cy="1695.6" rx="50.6" ry="29.7" transform="rotate(-58.7 2387.4 1695.6)" stroke-width="4.5"/>
<ellipse cx="2388.5" cy="1698.9" rx="22.6" ry="41" transform="rotate(28.7 2388.5 1698.9)" stroke-width="5"/>
<path d="M2402.6 1662.1 C2402.8 1666.6 2405.8 1680.6 2404.1 1688.8 C2402.3 1696.9 2398.4 1704 2392.2 1711 C2386.1 1717.9 2371.3 1727 2367.1 1730.2" stroke-width="5"/>
<path d="M2402.6 1681.4 L2412.9 1678.4" stroke-width="4"/>
<path d="M2399.6 1697.6 L2411.5 1699.1" stroke-width="4"/>
<path d="M2390.7 1712.4 L2405.5 1715.4" stroke-width="4"/>
<path d="M2381.9 1722.8 L2393.7 1728.7" stroke-width="4"/>
<path d="M2373 1727.2 L2381.9 1736.1" stroke-width="4"/>
<path d="M339.2 1514.3 C336.8 1511.1 327.8 1502.4 324.9 1495.2 C322 1488.1 320.4 1479.4 321.7 1471.4 C323.1 1463.5 327 1455.6 332.9 1447.6 C338.7 1439.7 348.7 1429.1 356.7 1423.8 C364.6 1418.5 373.9 1416.1 380.5 1415.9 C387.1 1415.6 391.3 1420 396.3 1422.2 C401.4 1424.5 408.3 1428.2 410.6 1429.4" stroke-width="4.5"/>
<path d="M348.7 1519 C348.1 1515.1 344.8 1503.2 344.8 1495.2 C344.8 1487.3 345.4 1479.4 348.7 1471.4 C352 1463.5 359.3 1453.4 364.6 1447.6 C369.9 1441.8 374.9 1439.7 380.5 1436.5 C386 1433.3 395 1429.9 397.9 1428.6" stroke-width="4.5"/>
<path d="M361.4 1525.4 C360.9 1521.7 358 1510.8 358.3 1503.2 C358.5 1495.5 359.8 1487.3 363 1479.4 C366.2 1471.4 372.3 1461.4 377.3 1455.6 C382.3 1449.7 389.2 1446.8 393.2 1444.4 C397.1 1442.1 399.8 1441.8 401.1 1441.3" stroke-width="4.5"/>
<path d="M410.6 1429.4 L444 1449.2" stroke-width="4.5"/>
<path d="M339.2 1514.3 L364.6 1527 L386.8 1539.7" stroke-width="4.5"/>
<ellipse cx="421.8" cy="1499" rx="32.1" ry="55" transform="rotate(30.1 421.8 1499)" stroke-width="4.5"/>
<ellipse cx="421.5" cy="1500.3" rx="41.6" ry="25.1" transform="rotate(-59.8 421.5 1500.3)" stroke-width="4.5"/>
<path d="M415.4 1469.8 C414.9 1473 414.9 1482.5 412.2 1488.9 C409.6 1495.2 401.6 1504.8 399.5 1507.9" stroke-width="4"/>
<path d="M428.1 1466.7 C427.6 1470.1 427.6 1480.4 424.9 1487.3 C422.3 1494.2 417 1502.4 412.2 1507.9 C407.5 1513.5 399 1518.5 396.3 1520.6" stroke-width="4"/>
<ellipse cx="391.1" cy="1436" rx="6.7" ry="9" transform="rotate(85.6 391.1 1436)" stroke-width="4"/>
<path d="M227.3 1483 L227.3 1530" stroke-width="4.5"/>
<path d="M215.4 1557.1 C215.4 1554.5 214.3 1544.7 215.4 1541.3 C216.5 1537.8 218.3 1537.3 221.7 1536.5 C225.2 1535.7 232.9 1535.4 236 1536.5 C239.2 1537.6 240 1539.4 240.8 1542.9 C241.6 1546.3 240.8 1554.8 240.8 1557.1" stroke-width="4.5"/>
<ellipse cx="228.5" cy="1543.1" rx="5" ry="9.5" transform="rotate(87.4 228.5 1543.1)" stroke-width="4"/>
<path d="M205.9 1563.5 L212.2 1557.9 L247.1 1557.9 L250.3 1566.7 L250.3 1582.5 L244 1586.5 L210.6 1586.5 L205.9 1577.8 L205.9 1563.5" stroke-width="4.5"/>
<path d="M212.2 1565.1 L244 1565.1" stroke-width="4"/>
<path d="M220.2 1576.2 L220.2 1585.7" stroke-width="4"/>
<path d="M237.6 1576.2 L237.6 1585.7" stroke-width="4"/>
<path d="M212.2 1586.5 C212.5 1588 215.1 1592.2 213.8 1595.2 C212.5 1598.3 206.7 1601.3 204.3 1604.8 C201.9 1608.2 199 1612.4 199.5 1615.9 C200.1 1619.3 203.8 1625.4 207.5 1625.4 C211.2 1625.4 217.5 1618.5 221.7 1615.9 C226 1613.2 229.2 1612.2 232.9 1609.5 C236.6 1606.9 241.9 1603.7 244 1600 C246.1 1596.3 245.3 1589.4 245.6 1587.3" stroke-width="4.5"/>
<path d="M210.6 1604.8 L229.7 1614.3" stroke-width="4"/>
<path d="M217 1595.2 L234.4 1609.5" stroke-width="4"/>
<path d="M1196.7 1467.2 C1198.7 1464.4 1201.2 1455.8 1208.9 1450.5 C1216.5 1445.1 1234.3 1437 1242.4 1435.2 C1250.5 1433.5 1252.5 1436 1257.6 1439.8 C1262.7 1443.6 1268.9 1451.2 1272.9 1458.1 C1276.8 1465 1280.5 1474.9 1281.2 1481 C1282 1487 1283.4 1489.3 1277.4 1494.7 C1271.5 1500 1250.8 1509.9 1245.4 1513" stroke-width="4.5"/>
<ellipse cx="1221.5" cy="1488.4" rx="18.6" ry="33.5" transform="rotate(-23.9 1221.5 1488.4)" stroke-width="4.5"/>
<path d="M1228.7 1461.1 L1259.1 1444.4" stroke-width="4"/>
<path d="M1242.4 1488.6 L1275.1 1471.8" stroke-width="4"/>
<path d="M1245.4 1511.4 L1277.4 1493.1" stroke-width="4"/>
<path d="M1187.5 1488.6 L1211.9 1473.3" stroke-width="4.5"/>
<path d="M1202.8 1517.5 L1234.8 1498.5" stroke-width="4.5"/>
<path d="M1184.5 1488.6 C1186.5 1490.6 1193.6 1496.4 1196.7 1500.8 C1199.7 1505.1 1202.3 1510.7 1202.8 1514.5 C1203.3 1518.3 1200.2 1522.1 1199.7 1523.6" stroke-width="4.5"/>
<path d="M1183 1489.3 C1178.9 1491.2 1166.4 1495.8 1158.6 1500.8 C1150.7 1505.7 1142.8 1511.4 1135.7 1519 C1128.6 1526.7 1120.2 1537.6 1115.9 1546.5 C1111.6 1555.4 1110.1 1563.5 1109.8 1572.4 C1109.6 1581.3 1111.1 1590.9 1114.4 1599.8 C1117.7 1608.7 1124.8 1618.3 1129.6 1625.7 C1134.4 1633.1 1141 1641 1143.3 1644" stroke-width="4.5"/>
<path d="M1199.7 1523.6 C1195.7 1525.9 1181.9 1532.8 1175.3 1537.3 C1168.7 1541.9 1163.7 1546 1160.1 1551 C1156.5 1556.1 1154.8 1562.7 1154 1567.8 C1153.2 1572.9 1154.3 1577.7 1155.5 1581.5 C1156.8 1585.3 1160.6 1589.1 1161.6 1590.7" stroke-width="4.5"/>
<path d="M1141.8 1665.3 L1174.6 1596.8" stroke-width="4.5"/>
<path d="M1166.1904761904761 1589.142857142857 L1192.095238095238 1540.3809523809523 L1182.952380952381 1595.2380952380952 Z" fill="#000" stroke="#000" stroke-width="2"/>
<path d="M1100.7 1691.2 L1134.2 1724.8 L1181.4 1698.9 L1179.9 1688.2" stroke-width="4.5"/>
<path d="M1100.7 1691.2 L1138.8 1665.3" stroke-width="4.5"/>
<path d="M1105.2 1694.3 L1135.7 1721 L1178.4 1696.6" stroke-width="3.5"/>
<path d="M1149.4 1691.2 C1147.1 1690.5 1140 1686.2 1135.7 1686.7 C1131.4 1687.2 1125 1691 1123.5 1694.3 C1122 1697.6 1124 1703.9 1126.6 1706.5 C1129.1 1709 1135 1710 1138.8 1709.5 C1142.6 1709 1147.7 1704.4 1149.4 1703.4" stroke-width="4.5"/>
<path d="M1157 1663.8 L1181.4 1692.8" stroke-width="4"/>
<path d="M1158.6 1653.1 L1205.8 1627.2 L1231.7 1666.9 L1187.5 1692.8" stroke-width="4.5"/>
<path d="M1169.2 1651.6 L1195.1 1692.8" stroke-width="4.5"/>
<path d="M1175.3 1615 L1187.5 1633.3" stroke-width="4"/>
<path d="M1215 1633.3 C1218 1631.6 1228.2 1624.2 1233.2 1622.7 C1238.3 1621.1 1241.9 1621.1 1245.4 1624.2 C1249 1627.2 1253.8 1635.6 1254.6 1641 C1255.3 1646.3 1253.6 1651.9 1250 1656.2 C1246.4 1660.5 1236 1665.1 1233.2 1666.9" stroke-width="4.5"/>
<path d="M1216.5 1636.4 C1217.7 1638.4 1222.3 1644 1224.1 1648.6 C1225.9 1653.1 1226.6 1661.3 1227.1 1663.8" stroke-width="4"/>
<path d="M1224.1 1630.3 C1225.4 1632.3 1229.7 1637.7 1231.7 1642.5 C1233.7 1647.3 1235.5 1656.4 1236.3 1659.2" stroke-width="4"/>
<path d="M1233.2 1624.2 C1234.5 1626.5 1239.1 1632.8 1240.9 1637.9 C1242.6 1643 1243.4 1651.9 1243.9 1654.7" stroke-width="4"/>
<path d="M1240.9 1624.2 C1242.1 1626.2 1246.7 1632.3 1248.5 1636.4 C1250.3 1640.4 1251 1646.5 1251.5 1648.6" stroke-width="4"/>
<ellipse cx="1114.2" cy="1752.9" rx="15.8" ry="20.3" transform="rotate(-75.5 1114.2 1752.9)" stroke-width="4.5"/>
<ellipse cx="1112.8" cy="1753.4" rx="12" ry="8.8" transform="rotate(2.4 1112.8 1753.4)" stroke-width="5"/>
<path d="M1088.6 1786.7 C1089.9 1785.9 1093.3 1782.5 1096.7 1781.8 C1100 1781.1 1106.1 1781.1 1108.8 1782.6 C1111.5 1784.1 1112.9 1788.2 1112.9 1790.7 C1112.9 1793.3 1111.5 1796.8 1108.8 1798 C1106.1 1799.2 1099.6 1799.1 1096.7 1798 C1093.7 1796.9 1092.3 1793.4 1091 1791.5 C1089.7 1789.6 1089 1787.5 1088.6 1786.7" stroke-width="5"/>
<path d="M1088.6 1788.3 L1069.1 1843.3" stroke-width="5"/>
<path d="M1112.9 1791.5 L1096.7 1847.4" stroke-width="5"/>
<path d="M1089.4 1798.8 C1090.8 1799.6 1095 1802.7 1097.9 1803.3 C1100.7 1803.8 1105 1802.2 1106.4 1802" stroke-width="5"/>
<path d="M1086.1 1811 C1087.4 1811.6 1091.3 1814.6 1093.8 1815 C1096.4 1815.4 1100.2 1813.7 1101.5 1813.4" stroke-width="5"/>
<path d="M1080.5 1824.7 C1081.9 1825.5 1086.1 1828.9 1089 1829.6 C1091.8 1830.2 1096.1 1828.9 1097.5 1828.8" stroke-width="5"/>
<path d="M1075.6 1838.5 C1077 1839.3 1081.3 1842.7 1084.1 1843.3 C1087 1844 1091.2 1842.7 1092.6 1842.5" stroke-width="5"/>
<path d="M1064.3 1843.3 C1062.9 1844.7 1058.1 1847.4 1056.2 1851.4 C1054.3 1855.5 1052.3 1862.2 1053 1867.6 C1053.6 1873 1056.7 1880 1060.2 1883.8 C1063.7 1887.6 1069.3 1889.6 1074 1890.3 C1078.7 1891 1084.8 1890 1088.6 1887.9 C1092.3 1885.7 1094.8 1881.5 1096.7 1877.3 C1098.6 1873.2 1099.6 1867.1 1099.9 1862.8 C1100.2 1858.4 1098.6 1853.3 1098.3 1851.4" stroke-width="5"/>
<path d="M1063.5 1847.4 C1063.6 1849.4 1062.8 1856.4 1064.3 1859.5 C1065.8 1862.6 1069 1864.5 1072.4 1866 C1075.8 1867.5 1081.2 1868.8 1084.5 1868.4 C1087.9 1868 1091.3 1865.6 1092.6 1863.6 C1094 1861.5 1092.6 1857.5 1092.6 1856.3" stroke-width="5"/>
<path d="M1060.2 1862.8 L1057.8 1881.4" stroke-width="4.5"/>
<path d="M1066.7 1869.2 L1064.3 1887.9" stroke-width="4.5"/>
<path d="M1082.1 1871.7 L1078 1887.9" stroke-width="4.5"/>
<path d="M1092.6 1870.9 L1085.3 1886.2" stroke-width="4.5"/>
<path d="M977 2049 L1792.5 1570.4" stroke-width="4"/>
<path d="M1848.3 1542.5 L1927.4 1493.7" stroke-width="4"/>
<path d="M1070 2203 L1098 2187" stroke-width="4"/>
<path d="M1175 2143 L1783 1791" stroke-width="4"/>
<path d="M1831.4 1763.3 L1999 1665" stroke-width="4"/>
<ellipse cx="1013.6" cy="2136.4" rx="90" ry="52.7" transform="rotate(58.8 1013.6 2136.4)" stroke-width="4.5"/>
<ellipse cx="1013.5" cy="2136.9" rx="45.6" ry="77.8" transform="rotate(-32.9 1013.5 2136.9)" stroke-width="4"/>
<path d="M976.8 2074.9 C975.5 2078.3 969.6 2085.8 969.3 2095.5 C969 2105.1 971.2 2122 974.9 2132.9 C978.6 2143.8 985.2 2152.2 991.7 2161 C998.3 2169.7 1004.5 2179.3 1014.2 2185.3 C1023.8 2191.2 1043.8 2194.6 1049.7 2196.5" stroke-width="5"/>
<path d="M986.1 2071.2 C985.8 2076.8 982.4 2093 984.3 2104.8 C986.1 2116.7 991.7 2131.3 997.3 2142.2 C1003 2153.2 1008.6 2162.5 1017.9 2170.3 C1027.3 2178.1 1047.5 2185.9 1053.5 2189" stroke-width="5"/>
<path d="M993.6 2071.2 C994.2 2076.8 994.5 2094.2 997.3 2104.8 C1000.2 2115.4 1004.8 2125.4 1010.4 2134.8 C1016.1 2144.1 1022.3 2153.8 1031 2161 C1039.8 2168.1 1057.5 2175 1062.8 2177.8" stroke-width="5"/>
<path d="M1004.8 2073 C1005.8 2078.3 1007.3 2095.2 1010.4 2104.8 C1013.6 2114.5 1018.2 2123.2 1023.5 2131 C1028.8 2138.8 1036 2145.4 1042.2 2151.6 C1048.5 2157.8 1057.8 2165.6 1061 2168.4" stroke-width="5"/>
<path d="M1094.6 2183.4 L1102.1 2187.1 L1150.7 2262 L1220 2213.3" stroke-width="4.5"/>
<path d="M1107.7 2181.5 C1110.8 2178.4 1120.2 2167.8 1126.4 2162.8 C1132.7 2157.8 1138 2154.7 1145.1 2151.6 C1152.3 2148.5 1165.4 2145.4 1169.5 2144.1" stroke-width="4.5"/>
<path d="M1137.7 2174 L1178.8 2235.8" stroke-width="4.5"/>
<path d="M1173.2 2140.4 L1175.1 2147.9 L1201.3 2179.7" stroke-width="4.5"/>
<path d="M1171.3 2245.1 L1195.6 2232" stroke-width="4"/>
<path d="M1199.4 2179.7 C1202.8 2177.8 1214.4 2170.6 1220 2168.4 C1225.6 2166.3 1229.3 2164.7 1233.1 2166.6 C1236.8 2168.4 1240.9 2175 1242.4 2179.7 C1244 2184.3 1243.4 2190.9 1242.4 2194.6 C1241.5 2198.4 1240.5 2199 1236.8 2202.1 C1233.1 2205.2 1222.8 2211.5 1220 2213.3" stroke-width="4.5"/>
<path d="M1205 2183.4 C1206.6 2185.3 1211.9 2190.3 1214.4 2194.6 C1216.8 2199 1219 2207.1 1220 2209.6" stroke-width="4.5"/>
<path d="M1212.5 2177.8 C1214 2179.7 1219.3 2184.6 1221.8 2189 C1224.3 2193.4 1226.5 2201.5 1227.4 2204" stroke-width="4.5"/>
<path d="M1221.8 2172.2 C1223.4 2174 1229 2179 1231.2 2183.4 C1233.4 2187.8 1234.3 2195.9 1234.9 2198.4" stroke-width="4.5"/>
<path d="M1927.3 1491.3 C1931.6 1489.8 1944 1481.7 1952.9 1482.1 C1961.8 1482.4 1970.3 1487.1 1980.8 1493.7 C1991.3 1500.3 2006 1510.3 2015.7 1521.6 C2025.4 1532.8 2033.1 1546.7 2038.9 1561.1 C2044.7 1575.4 2048.6 1597.1 2050.5 1607.6 C2052.5 1618 2052.5 1618 2050.5 1623.8 C2048.6 1629.6 2044.7 1637 2038.9 1642.4 C2033.1 1647.8 2025.4 1651.8 2015.7 1656.4 C2006 1661 1986.6 1667.8 1980.8 1670.1" stroke-width="4.5"/>
<path d="M1932 1493.7 C1938.2 1494.4 1957.2 1492.9 1969.2 1498.3 C1981.2 1503.7 1994.4 1513.8 2004 1526.2 C2013.7 1538.6 2021.9 1557.2 2027.3 1572.7 C2032.7 1588.2 2035.8 1607.6 2036.6 1619.2 C2037.4 1630.8 2033.9 1636.6 2031.9 1642.4 C2030 1648.2 2026.1 1652.1 2025 1654" stroke-width="4.5"/>
<ellipse cx="2111.1" cy="1543.4" rx="71.5" ry="43.1" transform="rotate(-58.3 2111.1 1543.4)" stroke-width="4.5"/>
<ellipse cx="2110.5" cy="1540" rx="31.1" ry="54.2" transform="rotate(30.3 2110.5 1540)" stroke-width="4.5"/>
<path d="M1948.3 1458.8 L1950.6 1482.1" stroke-width="4.5"/>
<path d="M1949.4 1458.8 L2006.4 1430.9 L2025 1433.2 L2062.2 1456.5 L2071.5 1470.4 L2015.7 1500.6 L1950.6 1460" stroke-width="4.5"/>
<path d="M2025 1433.2 C2028.8 1432.1 2040.5 1426.7 2048.2 1426.3 C2056 1425.9 2061.4 1427 2071.5 1430.9 C2081.5 1434.8 2096.6 1442.5 2108.6 1449.5 C2120.6 1456.5 2137.7 1468.9 2143.5 1472.8" stroke-width="4.5"/>
<path d="M2059.8 1453 L2085.4 1443.7" stroke-width="4"/>
<path d="M2069.1 1463.5 L2076.1 1491.3 L2080.7 1496" stroke-width="4"/>
<path d="M2022.6 1507.6 L2022.6 1519.2" stroke-width="5"/>
<path d="M2029.6 1526.2 L2071.5 1503" stroke-width="4"/>
<path d="M2064.5 1516.9 C2062.5 1521.6 2055.2 1535.5 2052.9 1544.8 C2050.5 1554.1 2050.9 1568 2050.5 1572.7" stroke-width="4"/>
<path d="M2055.2 1595.9 L2069.1 1600.6 L2050.5 1621.5" stroke-width="4"/>
<path d="M2050.5 1621.5 L2073.8 1605.2" stroke-width="4"/>
<path d="M1787.9 1568 L1790.2 1558.8 L1827.4 1537.8 L1839 1540.2 L1848.3 1542.5" stroke-width="4.5"/>
<path d="M1792.5 1570.4 L1797.2 1563.4 L1839 1542.5" stroke-width="4"/>
<path d="M1760 1593.6 C1764.6 1591.3 1780.1 1580.8 1787.9 1579.7 C1795.6 1578.5 1802.2 1582.8 1806.5 1586.6 C1810.7 1590.5 1812.7 1599 1813.5 1602.9 C1814.2 1606.8 1817.7 1605.6 1811.1 1609.9 C1804.5 1614.1 1780.1 1625.4 1773.9 1628.5" stroke-width="4.5"/>
<path d="M1778.6 1586.6 C1781.3 1589 1792.5 1595.9 1794.9 1600.6 C1797.2 1605.2 1792.9 1612.2 1792.5 1614.5" stroke-width="4.5"/>
<path d="M1794.9 1582 C1797.2 1584.3 1806.9 1591.3 1808.8 1595.9 C1810.7 1600.6 1806.9 1607.6 1806.5 1609.9" stroke-width="4.5"/>
<path d="M1760 1598.3 C1762.3 1599 1770.8 1599.4 1773.9 1602.9 C1777 1606.4 1777.8 1616.5 1778.6 1619.2" stroke-width="4.5"/>
<path d="M1786.9 1778.1 C1789.6 1775.7 1797.7 1766.7 1803.6 1763.3 C1809.5 1759.9 1819 1758.6 1822.1 1757.7" stroke-width="4.5"/>
<path d="M1777.6 1783.7 L1786.9 1787.4 L1803.6 1813.4 L1809.1 1820.9" stroke-width="4.5"/>
<path d="M1829.6 1757.7 C1829.9 1759.6 1828.6 1763.3 1831.4 1768.9 C1834.2 1774.4 1843.5 1786.2 1846.3 1791.1 C1849.1 1796.1 1850.6 1795.2 1848.1 1798.6 C1845.7 1802 1837.9 1807.9 1831.4 1811.6 C1824.9 1815.3 1812.9 1819.3 1809.1 1820.9" stroke-width="4.5"/>
<ellipse cx="1826.2" cy="1804.5" rx="7.2" ry="20" transform="rotate(56.2 1826.2 1804.5)" stroke-width="5"/>
<ellipse cx="1824.0" cy="1804.142857142857" rx="9" ry="4" transform="rotate(-30 1824.0 1804.142857142857)" fill="#000" stroke="none"/>
<path d="M1673.6 1800.4 C1671.9 1800.8 1665.8 1800.9 1663.4 1802.7 C1660.9 1804.5 1658.9 1808.8 1659.1 1811.2 C1659.3 1813.6 1663.7 1816.2 1664.7 1817.1" stroke-width="4.5"/>
<path d="M1680.6 1802.3 C1681.9 1803.7 1688.1 1808.1 1688.1 1810.8 C1688.1 1813.6 1681.9 1817.3 1680.6 1818.6" stroke-width="4.5"/>
<path d="M1669.9 1824.6 L1666.1 1832" stroke-width="4.5"/>
<path d="M1664.3 1839.4 L1660.6 1850.6" stroke-width="4.5"/>
<path d="M1615.1 1975 L1639.2 1906.3" stroke-width="4.5"/>
<path d="M1625.2857142857142 1917.4285714285713 L1655.0 1871.0 L1645.7142857142858 1924.857142857143 Z" fill="#000" stroke="#000" stroke-width="2"/>
<path d="M2193.7 1649.5 C2191.9 1646.5 2185 1638.4 2183.3 1631.7 C2181.6 1625.1 2181.6 1617.4 2183.3 1609.5 C2185 1601.6 2188.5 1592.3 2193.7 1584.4 C2198.9 1576.5 2207.5 1567.4 2214.4 1562.2 C2221.3 1557 2229.7 1554.5 2235.1 1553.3 C2240.5 1552.1 2243 1553.3 2246.9 1554.8 C2250.9 1556.3 2256.8 1561 2258.8 1562.2" stroke-width="4.5"/>
<path d="M2205.5 1652.4 C2205.3 1648.5 2203 1637.2 2204 1628.8 C2205 1620.4 2207.7 1610 2211.4 1602.1 C2215.1 1594.3 2220.8 1587.1 2226.2 1581.4 C2231.6 1575.8 2241 1570.3 2244 1568.1" stroke-width="4.5"/>
<path d="M2220.3 1664.3 C2220.1 1660.8 2218.3 1651.5 2218.8 1643.6 C2219.3 1635.7 2220.3 1624.8 2223.3 1616.9 C2226.2 1609 2231.6 1602.4 2236.6 1596.2 C2241.5 1590.1 2246.9 1584.4 2252.9 1579.9 C2258.8 1575.5 2268.9 1571.3 2272.1 1569.6" stroke-width="4.5"/>
<path d="M2246.9 1554.8 L2310.6 1588.8" stroke-width="4.5"/>
<path d="M2193.7 1649.5 L2258.8 1685" stroke-width="4.5"/>
<ellipse cx="2283.1" cy="1636.8" rx="53.4" ry="32.7" transform="rotate(-58 2283.1 1636.8)" stroke-width="4.5"/>
<ellipse cx="2282.1" cy="1636.4" rx="25.9" ry="41.5" transform="rotate(28.7 2282.1 1636.4)" stroke-width="4.5"/>
<path d="M2288.4 1603.6 C2288.4 1606.6 2289.8 1615.2 2288.4 1621.4 C2286.9 1627.5 2284.4 1634.4 2279.5 1640.6 C2274.6 1646.8 2262.2 1655.4 2258.8 1658.4" stroke-width="4.5"/>
<path d="M2257.295918367347 1631.734693877551 L2275.0510204081634 1615.4591836734694 L2258.7755102040815 1643.5714285714287 Z" fill="#000" stroke="#000" stroke-width="3"/>
<path d="M2242.5 1575.5 C2243.5 1575 2246.4 1572.6 2248.4 1572.6 C2250.4 1572.6 2253.4 1575 2254.3 1575.5" stroke-width="4"/>
<path d="M1460.6 2478.6 L1603.5 2394.9 L1611.6 2386.8 L1690 2257.2 L1701.3 2247.6 L1955.7 2102.3" stroke-width="4"/>
<path d="M1476.7 2514.8 L1623.6 2431.1 L1635.7 2422.2 L1718.2 2289.4 L1728.3 2282.2 L1951.7 2146.5" stroke-width="4"/>
<ellipse cx="1400.8" cy="2538.1" rx="31.7" ry="34.9" transform="rotate(-3.8 1400.8 2538.1)" stroke-width="4.5"/>
<ellipse cx="1392.4" cy="2540.9" rx="20.1" ry="15.2" transform="rotate(84.1 1392.4 2540.9)" stroke-width="4.5"/>
<path d="M1384.1 2504.8 C1390.2 2501.7 1411.7 2489 1420.4 2486.6 C1429.1 2484.3 1431.1 2486.6 1436.5 2490.7 C1441.8 2494.7 1449.2 2502.7 1452.6 2510.8 C1455.9 2518.8 1462 2529.9 1456.6 2539 C1451.2 2548 1426.4 2560.8 1420.4 2565.1" stroke-width="4.5"/>
<path d="M1420.4 2510.8 L1448.5 2494.7" stroke-width="4"/>
<path d="M1432.4 2543 L1456.6 2530.9" stroke-width="4"/>
<path d="M1440.5 2494.7 C1443.9 2492 1455.3 2479.9 1460.6 2478.6 C1466 2477.3 1469.3 2482.6 1472.7 2486.6 C1476.1 2490.7 1480.1 2498 1480.7 2502.7 C1481.4 2507.4 1481.4 2511.5 1476.7 2514.8 C1472 2518.2 1456.6 2521.5 1452.6 2522.9" stroke-width="4"/>
<path d="M1933.7 2091.7 L1944.8 2083.8 L1960.7 2075.9 L1975.8 2065.6 L2004.4 2066 L2013.1 2066.3 L2014.7 2071.9 L2017.1 2078.3 L2028.2 2082.2" stroke-width="5"/>
<path d="M1944.8 2087.8 L1975.8 2067.1 L2003.6 2067.5 L1970.2 2091 L1944.8 2087.8" stroke-width="4.5"/>
<path d="M1933.7 2091.7 L1936.9 2104.4 L1936.1 2108.4" stroke-width="4.5"/>
<path d="M1937.7 2093.3 L1970.2 2093.3" stroke-width="4.5"/>
<path d="M1970.2 2091 L1971 2101.3 L1986.1 2144.1" stroke-width="5"/>
<path d="M2030.6 2104.4 L2031.3 2122.7 L1992.5 2145.7 L1985.3 2144.1 L1963.9 2142.9" stroke-width="5"/>
<path d="M1971.8 2092.5 L2010.7 2068.7" stroke-width="4.5"/>
<path d="M1979 2102.9 L2013.9 2080.6" stroke-width="4.5"/>
<path d="M1986.9 2107.6 L2024.2 2086.2" stroke-width="4.5"/>
<path d="M1993.3 2120.3 L2009.1 2111.6" stroke-width="4.5"/>
<path d="M1994.8 2130.6 L2028.2 2106.8" stroke-width="4.5"/>
<path d="M1991.7 2142.5 L2028.2 2121.1" stroke-width="4.5"/>
<path d="M2009.1 2103.7 L2009.1 2110.8" stroke-width="4.5"/>
<path d="M1980.6 2109.2 L1987.7 2129" stroke-width="4.5"/>
<path d="M2012.3 2099.7 L2047.2 2075.1 L2055.2 2079.8 L2056 2085.4 L2017.9 2106" stroke-width="5"/>
<path d="M1937.7 2107.6 C1939.8 2106.4 1946.8 2101.7 1950.4 2100.5 C1954 2099.3 1956.2 2099 1959.1 2100.5 C1962 2101.9 1965.6 2106 1967.9 2109.2 C1970.1 2112.4 1971.7 2115.8 1972.6 2119.5 C1973.5 2123.2 1975 2127.6 1973.4 2131.4 C1971.8 2135.3 1964.8 2140.7 1963.1 2142.5" stroke-width="5"/>
<path d="M1925 2115.6 L1936.9 2109.2" stroke-width="4"/>
<path d="M1942.5 2148.9 L1963.9 2142.9" stroke-width="4"/>
<path d="M2036.5 2131.9 C2039.4 2135.8 2049.8 2150.3 2054 2155.8 C2058.1 2161.3 2056.1 2160.9 2061.3 2165 C2066.6 2169.2 2081.3 2178.1 2085.3 2180.7" stroke-width="4"/>
<ellipse cx="2106.3" cy="2194.7" rx="19.2" ry="13.7" transform="rotate(-60.2 2106.3 2194.7)" stroke-width="4.5"/>
<ellipse cx="2106.5" cy="2195" rx="6.1" ry="11.2" transform="rotate(37.3 2106.5 2195)" stroke-width="4.5"/>
<path d="M2134.1 2201.5 L2145.6 2203 L2174.7 2221.4 L2200.7 2239" stroke-width="5"/>
<path d="M2126.5 2220.6 L2138 2226 L2165.5 2242 L2194.6 2257.3" stroke-width="5"/>
<path d="M2134.1 2201.5 C2133 2202 2128.8 2202.6 2127.2 2204.5 C2125.7 2206.5 2124.8 2210.3 2124.9 2213 C2125.1 2215.6 2126.5 2218.8 2128 2220.6 C2129.5 2222.4 2133.1 2223.2 2134.1 2223.7" stroke-width="5"/>
<path d="M2140.3 2205.3 C2139.5 2206.8 2136.6 2211.7 2135.7 2214.5 C2134.8 2217.3 2135 2220.9 2134.9 2222.1" stroke-width="5"/>
<path d="M2154.8 2213.7 C2153.9 2215.1 2150.6 2219.7 2149.4 2222.1 C2148.3 2224.6 2148.2 2227.2 2147.9 2228.3" stroke-width="5"/>
<path d="M2168.6 2221.4 C2167.6 2223 2163.7 2228.9 2162.4 2231.3 C2161.2 2233.8 2161.2 2235.2 2160.9 2235.9" stroke-width="5"/>
<path d="M2173.2 2225.2 C2172.4 2226.4 2169.5 2229.7 2168.6 2232.1 C2167.7 2234.5 2167.9 2238.5 2167.8 2239.7" stroke-width="4"/>
<path d="M2200.7 2239 C2202.8 2238.5 2208.8 2236.2 2213 2235.9 C2217.2 2235.7 2221.9 2235.9 2226 2237.4 C2230.1 2239 2235 2241.9 2237.4 2245.1 C2239.9 2248.3 2240.5 2252.4 2240.5 2256.6 C2240.5 2260.8 2239.5 2266.4 2237.4 2270.4 C2235.4 2274.3 2232.1 2278.4 2228.3 2280.3 C2224.4 2282.2 2218.3 2282.5 2214.5 2281.8 C2210.7 2281.2 2208.4 2278.3 2205.3 2276.5 C2202.2 2274.7 2197.9 2274.1 2196.1 2271.1 C2194.3 2268.2 2194.6 2261.9 2194.6 2258.9 C2194.6 2255.8 2195.1 2255.3 2196.1 2252.8 C2197.1 2250.2 2199.9 2245.9 2200.7 2243.6 C2201.5 2241.3 2200.7 2239.7 2200.7 2239" stroke-width="5"/>
<path d="M2216.8 2252 C2219.2 2251.1 2228.1 2246.1 2231.3 2246.6 C2234.5 2247.1 2235.7 2251.1 2235.9 2255.1 C2236.2 2259 2234.9 2266.4 2232.9 2270.4 C2230.8 2274.3 2226.7 2277.5 2223.7 2278.8 C2220.6 2280.1 2216.4 2280.1 2214.5 2278 C2212.6 2276 2212.1 2270.1 2212.2 2266.5 C2212.3 2263 2214.5 2259 2215.3 2256.6 C2216 2254.2 2216.5 2252.8 2216.8 2252" stroke-width="5"/>
<path d="M2200.7 2243.6 L2216.8 2252" stroke-width="4.5"/>
<path d="M2197.7 2263.5 L2209.9 2273.4" stroke-width="4.5"/>
<path d="M2209.9 2263.5 L2215.3 2256.6" stroke-width="4"/>
<ellipse cx="273.8" cy="2571.4" rx="68.8" ry="39.3" transform="rotate(55 273.8 2571.4)" stroke-width="4.5"/>
<path d="M248 2509.1 C250.6 2508.1 257.3 2503.6 263.1 2503.1 C268.8 2502.6 275.6 2502.6 282.6 2506.1 C289.6 2509.7 298.4 2517.2 305.1 2524.2 C311.9 2531.2 318.2 2540.2 323.2 2548.2 C328.2 2556.2 332.2 2564.7 335.2 2572.2 C338.2 2579.8 340.7 2586.5 341.2 2593.3 C341.7 2600 341.2 2607.5 338.2 2612.8 C335.2 2618.1 327.7 2621.6 323.2 2624.8 C318.7 2628.1 313.1 2631.1 311.1 2632.3" stroke-width="4.5"/>
<ellipse cx="272.6" cy="2572.8" rx="21.4" ry="37.1" transform="rotate(-33 272.6 2572.8)" stroke-width="4.5"/>
<path d="M264.6 2542.2 C264.8 2545.5 264.3 2555.2 266.1 2561.7 C267.8 2568.2 270.3 2575.5 275.1 2581.3 C279.8 2587 291.4 2593.8 294.6 2596.3" stroke-width="4.5"/>
<ellipse cx="397.2" cy="2500.7" rx="74.5" ry="48.5" transform="rotate(64.9 397.2 2500.7)" stroke-width="4.5"/>
<ellipse cx="394.7" cy="2503.4" rx="57.6" ry="34.8" transform="rotate(60.7 394.7 2503.4)" stroke-width="4.5"/>
<path d="M374.2 2455.1 C374.5 2460.1 373.2 2474.6 375.7 2485.1 C378.2 2495.6 384 2509.4 389.3 2518.2 C394.5 2526.9 400.8 2533.4 407.3 2537.7 C413.8 2541.9 424.8 2542.7 428.3 2543.7" stroke-width="4.5"/>
<path d="M374.2 2428 C379 2427 393.5 2420 402.8 2422 C412 2424 421.1 2431.5 429.8 2440 C438.6 2448.6 448.6 2461.8 455.4 2473.1 C462.1 2484.4 467.6 2496.9 470.4 2507.6 C473.1 2518.4 473.6 2529.2 471.9 2537.7 C470.1 2546.2 465.1 2553.5 459.9 2558.7 C454.6 2564 447.6 2566.7 440.3 2569.2 C433.1 2571.7 420.3 2573 416.3 2573.7" stroke-width="5"/>
<path d="M387.8 2435.5 C392.8 2437.5 408.5 2440.5 417.8 2447.6 C427.1 2454.6 436.6 2466.3 443.3 2477.6 C450.1 2488.9 455.4 2503.9 458.4 2515.2 C461.4 2526.4 462.9 2537.2 461.4 2545.2 C459.9 2553.2 451.4 2560.2 449.4 2563.2" stroke-width="4"/>
<path d="M410.3 2432.5 C414.1 2435 426.1 2440 432.8 2447.6 C439.6 2455.1 445.6 2466.3 450.9 2477.6 C456.1 2488.9 461.9 2505.1 464.4 2515.2 C466.9 2525.2 465.6 2533.9 465.9 2537.7" stroke-width="4"/>
<path d="M398.3 2426.5 C402.8 2428.8 416.8 2433.3 425.3 2440 C433.8 2446.8 442.3 2455.8 449.4 2467.1 C456.4 2478.4 463.9 2497.1 467.4 2507.6 C470.9 2518.2 469.9 2526.4 470.4 2530.2" stroke-width="4"/>
<path d="M377.2448979591837 2428.0272108843537 Q395.2721088435374 2422.018140589569 410.29478458049886 2429.52947845805" stroke-width="9"/>
<ellipse cx="527.1" cy="2425.4" rx="67.6" ry="38.7" transform="rotate(56 527.1 2425.4)" stroke-width="4.5"/>
<ellipse cx="527.6" cy="2425.6" rx="22.6" ry="37.3" transform="rotate(-33.8 527.6 2425.6)" stroke-width="4.5"/>
<path d="M497.9 2359.4 C500.5 2357.9 507.1 2352.4 513.8 2350.4 C520.4 2348.3 529.4 2345.1 537.6 2347 C545.7 2348.8 555.1 2355.8 562.5 2361.7 C569.9 2367.5 576.3 2374.2 581.8 2382.1 C587.3 2390 592.2 2400.4 595.4 2409.3 C598.6 2418.2 599.9 2427.3 601.1 2435.4 C602.2 2443.5 603.1 2451.8 602.2 2458.1 C601.2 2464.3 600.1 2468.6 595.4 2472.8 C590.7 2477 577.4 2481.3 573.8 2483" stroke-width="4.5"/>
<path d="M528.5 2339 C532.6 2337.7 545.9 2331.1 553.4 2331.1 C561 2331.1 567.2 2334.9 573.8 2339 C580.5 2343.2 587.4 2349.4 593.1 2356 C598.8 2362.6 603.5 2370.2 607.9 2378.7 C612.2 2387.2 616.5 2397.6 619.2 2407 C621.8 2416.5 623.2 2427.8 623.7 2435.4 C624.3 2442.9 625.4 2446.9 622.6 2452.4 C619.8 2457.9 609.4 2465.6 606.7 2468.3" stroke-width="4.5"/>
<path d="M537.6 2345.8 C541.5 2347.3 554.6 2351.1 561.4 2354.9 C568.2 2358.7 572.7 2362.4 578.4 2368.5 C584 2374.5 590.7 2382.9 595.4 2391.2 C600.1 2399.5 604.1 2409.1 606.7 2418.4 C609.4 2427.6 611.1 2439.2 611.3 2446.7 C611.4 2454.3 608.4 2460.9 607.9 2463.7" stroke-width="4"/>
<path d="M553.4 2324.3 C556.6 2322.6 565.7 2315.2 572.7 2314.1 C579.7 2312.9 588.2 2314.6 595.4 2317.5 C602.6 2320.3 609.6 2325.6 615.8 2331.1 C622 2336.6 627.7 2342.4 632.8 2350.4 C637.9 2358.3 642.6 2369.2 646.4 2378.7 C650.2 2388.1 654 2398.5 655.5 2407 C657 2415.5 657.4 2422.9 655.5 2429.7 C653.6 2436.5 649.4 2443.1 644.1 2447.9 C638.8 2452.6 630.3 2454.5 623.7 2458.1 C617.1 2461.7 607.7 2467.5 604.5 2469.4" stroke-width="5"/>
<path d="M594.3 2322 C598.2 2325.2 611.3 2333.5 618.1 2341.3 C624.9 2349 630.3 2359.4 635.1 2368.5 C639.8 2377.6 643.8 2387.4 646.4 2395.7 C649.1 2404 650.6 2411.8 650.9 2418.4 C651.3 2425 649.1 2432.6 648.7 2435.4" stroke-width="4"/>
<path d="M492.2 2368.5 L497.9 2359.4" stroke-width="4.5"/>
<path d="M513.8 2343.5 L528.5 2339" stroke-width="5"/>
<path d="M528.5 2339 L553.4 2324.3" stroke-width="5"/>
<path d="M567 2486.4 L573.8 2483" stroke-width="4.5"/>
<path d="M604.5 2469.4 L589.7 2477.3 L573.8 2483" stroke-width="4.5"/>
<path d="M513.7528344671202 2343.548752834467 L553.4353741496599 2324.2743764172337 L528.4920634920635 2339.013605442177 Z" fill="#000" stroke="#000" stroke-width="2"/>
<path d="M499 2361.7 L513.8 2357.2" stroke-width="4"/>
<path d="M576.1 2472.8 L585.2 2469.4" stroke-width="4"/>
<path d="M648.1 2289.3 C649.4 2284.7 651.3 2268.8 656.2 2261.8 C661 2254.8 671 2251 677.2 2247.2 C683.4 2243.5 688.2 2240.5 693.3 2239.2 C698.4 2237.8 701.7 2237.6 707.9 2239.2 C714.1 2240.8 722.4 2242.7 730.5 2248.9 C738.6 2255.1 749.1 2265.6 756.3 2276.3 C763.6 2287.1 770.1 2301.9 774.1 2313.5 C778.1 2325.1 780.3 2337.5 780.6 2345.8 C780.8 2354.1 778.7 2358.5 775.7 2363.6 C772.8 2368.7 769.3 2372.2 762.8 2376.5 C756.3 2380.8 744.2 2387.3 736.9 2389.4 C729.7 2391.6 726.4 2391.8 719.2 2389.4 C711.9 2387 701.1 2380.8 693.3 2374.9 C685.5 2369 678.8 2362.8 672.3 2353.9 C665.9 2345 658.6 2332.3 654.5 2321.6 C650.5 2310.8 649.2 2294.6 648.1 2289.3" stroke-width="4.5"/>
<path d="M678.8 2250.5 C677.7 2254.2 673.1 2265.3 672.3 2273.1 C671.5 2280.9 671.8 2287.9 673.9 2297.3 C676.1 2306.8 679.3 2318.9 685.2 2329.6 C691.2 2340.4 700.9 2354.1 709.5 2362 C718.1 2369.8 730.2 2374.1 736.9 2376.5 C743.7 2378.9 746.6 2378.9 749.9 2376.5 C753.1 2374.1 755.8 2369.8 756.3 2362 C756.9 2354.1 756.3 2341.2 753.1 2329.6 C749.9 2318.1 743.7 2303 736.9 2292.5 C730.2 2282 720.8 2273.1 712.7 2266.6 C704.6 2260.2 694.1 2256.4 688.5 2253.7 C682.8 2251 680.4 2251 678.8 2250.5" stroke-width="4.5"/>
<ellipse cx="831.2" cy="2244.3" rx="57.4" ry="35.5" transform="rotate(60.4 831.2 2244.3)" stroke-width="4.5"/>
<ellipse cx="831.8" cy="2243.4" rx="37.1" ry="24" transform="rotate(59.4 831.8 2243.4)" stroke-width="4.5"/>
<path d="M812.9 2214.9 C813.1 2217.9 812.3 2226.2 814.5 2232.7 C816.6 2239.2 820.4 2247.5 825.8 2253.7 C831.2 2259.9 843.3 2267.2 846.8 2269.9" stroke-width="4.5"/>
<path d="M824.2 2218.2 C824.7 2220.6 825.5 2227.3 827.4 2232.7 C829.3 2238.1 831.7 2246.2 835.5 2250.5 C839.3 2254.8 847.6 2257.2 850 2258.6" stroke-width="5"/>
<path d="M837.1 2224.6 C838.2 2226.8 841.4 2234.1 843.6 2237.6 C845.7 2241.1 849 2244.3 850 2245.6" stroke-width="4.5"/>
<path d="M814.5 2189.1 C819.1 2185.9 835.5 2173.6 842 2169.7 C848.4 2165.8 848.1 2165.7 853.3 2165.7 C858.4 2165.7 868.1 2167.7 872.7 2169.7 C877.2 2171.7 876.4 2172.7 880.7 2177.8 C885 2182.9 893.1 2191.5 898.5 2200.4 C903.9 2209.3 910.4 2222.7 913 2231.1 C915.7 2239.4 915.5 2244.6 914.7 2250.5 C913.9 2256.4 915.2 2260.7 908.2 2266.6 C901.2 2272.6 881 2281.2 872.7 2286 C864.3 2290.9 860.5 2294.1 858.1 2295.7" stroke-width="4.5"/>
<path d="M840.3 2200.4 L879.1 2178.6" stroke-width="4.5"/>
<path d="M872.7 2256.9 L913 2237.6" stroke-width="4.5"/>
<path d="M871 2256.9 L872.7 2286" stroke-width="4.5"/>
</g>
</svg>
</body></html>
